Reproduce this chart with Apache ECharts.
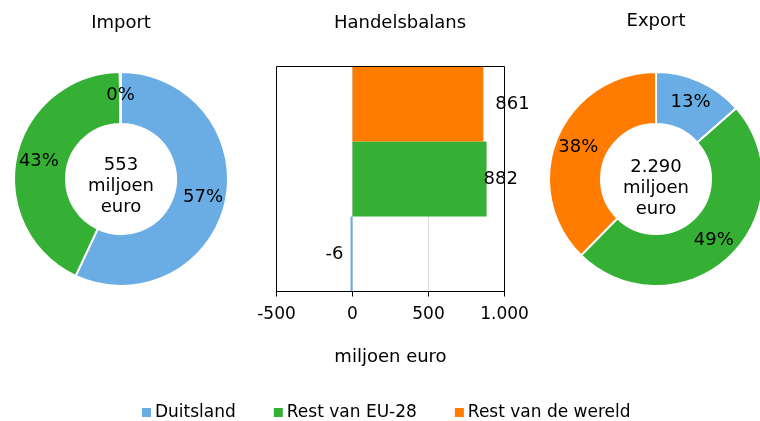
<!DOCTYPE html>
<html>
<head>
<meta charset="utf-8">
<script src="https://cdn.jsdelivr.net/npm/echarts@6/dist/echarts.min.js"></script>
<style>
  html, body { margin: 0; padding: 0; background: #fff; }
  #chart { width: 760px; height: 421px; }
</style>
</head>
<body>
<div id="chart"></div>
<script>
// Regions (legend order) and their colours
const regions = ['Duitsland', 'Rest van EU-28', 'Rest van de wereld'];
const regionColors = ['#69ade4', '#35b035', '#ff7c00'];

// Trade values in miljoen euro, same order as regions
const importValues = [315, 237, 1];
const exportValues = [309, 1119, 862];
const balanceValues = [-6, 882, 861];

// Horizontal axis of the balance chart
const balanceMin = -500;
const balanceMax = 1000;
const balanceStep = 500;

// Label spacing next to each balance bar (px)
const balanceLabelGap = [7, -3, 12];

const FONT = 'DejaVu Sans';
const FS = 18;

function fmt(v) {
  const s = String(Math.abs(v)).replace(/\B(?=(\d{3})+(?!\d))/g, '.');
  return (v < 0 ? '-' : '') + s;
}
const sum = arr => arr.reduce((a, b) => a + b, 0);

const chart = echarts.init(document.getElementById('chart'), null, { renderer: 'canvas' });

function donut(name, values, cx, cy) {
  return {
    type: 'pie',
    name: name,
    center: [cx, cy],
    radius: [55, 107],
    startAngle: 90,
    clockwise: true,
    percentPrecision: 0,
    avoidLabelOverlap: false,
    itemStyle: { borderColor: '#fff', borderWidth: 2 },
    label: {
      show: true,
      position: 'inside',
      color: '#000',
      fontFamily: FONT,
      fontSize: FS,
      formatter: p => Math.round(p.percent) + '%'
    },
    labelLine: { show: false },
    emphasis: { disabled: true },
    data: values.map((v, i) => ({ name: regions[i], value: v, itemStyle: { color: regionColors[i] } }))
  };
}

function heading(text, x, y) {
  return {
    type: 'text', x: x, y: y,
    style: { text: text, font: FS + 'px "' + FONT + '"', fill: '#000', align: 'center', verticalAlign: 'middle' }
  };
}
function centerText(total, x, y) {
  return {
    type: 'text', x: x, y: y,
    style: {
      text: fmt(total) + '\nmiljoen\neuro',
      font: FS + 'px "' + FONT + '"', fill: '#000',
      align: 'center', verticalAlign: 'middle', lineHeight: 21
    }
  };
}

const option = {
  animation: false,
  color: regionColors,
  textStyle: { fontFamily: FONT },
  legend: {
    data: regions,
    left: 140,
    top: 404,
    padding: 0,
    icon: 'rect',
    itemWidth: 11,
    itemHeight: 11,
    itemGap: 36,
    selectedMode: false,
    textStyle: { fontFamily: FONT, fontSize: 17, color: '#000', padding: [0, 0, 0, -2] }
  },
  grid: {
    left: 276.5, top: 66.5, width: 228, height: 225,
    z: 3,
    show: true, borderColor: '#000', borderWidth: 1, backgroundColor: 'transparent'
  },
  xAxis: {
    type: 'value',
    min: balanceMin, max: balanceMax, interval: balanceStep,
    axisLine: { show: true, lineStyle: { color: '#000', width: 1 } },
    axisTick: { show: true, length: 5, lineStyle: { color: '#000' } },
    axisLabel: { color: '#000', fontFamily: FONT, fontSize: 17, margin: 15, formatter: v => fmt(v) },
    splitLine: { show: true, lineStyle: { color: '#d9d9d9', width: 1 } },
    name: 'miljoen euro',
    nameLocation: 'middle',
    nameGap: 57,
    nameTextStyle: { color: '#000', fontFamily: FONT, fontSize: FS }
  },
  yAxis: {
    type: 'category',
    data: regions,
    axisLine: { show: false },
    axisTick: { show: false },
    axisLabel: { show: false },
    splitLine: { show: false }
  },
  series: [
    {
      type: 'bar',
      name: 'Handelsbalans',
      barCategoryGap: 0,
      barWidth: '100%',
      barMinHeight: 2,
      emphasis: { disabled: true },
      data: balanceValues.map((v, i) => ({
        value: v,
        itemStyle: { color: regionColors[i] },
        label: {
          show: true,
          position: v < 0 ? 'left' : 'right',
          distance: balanceLabelGap[i],
          color: '#000',
          fontFamily: FONT,
          fontSize: FS,
          formatter: p => fmt(p.value)
        }
      }))
    },
    donut('Import', importValues, 121, 179),
    donut('Export', exportValues, 656, 179)
  ],
  graphic: [
    heading('Import', 121, 23),
    heading('Handelsbalans', 400, 23),
    heading('Export', 656, 21),
    centerText(sum(importValues), 121, 186),
    centerText(sum(exportValues), 656, 188)
  ]
};

chart.setOption(option);
</script>
</body>
</html>
